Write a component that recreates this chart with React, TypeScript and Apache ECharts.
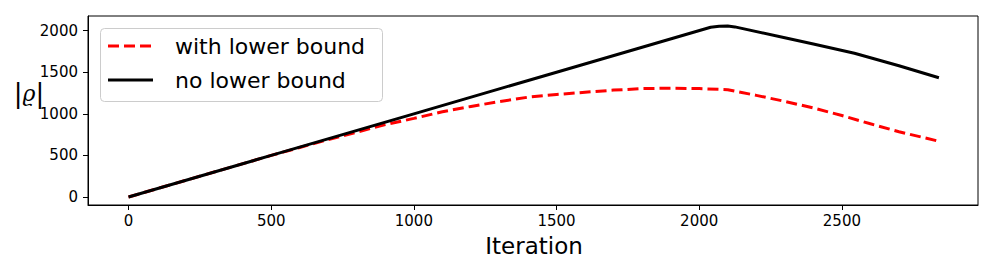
import React, { useEffect, useRef } from "react";
import * as echarts from "echarts";

const xTicks = [0, 500, 1000, 1500, 2000, 2500];
const yTicks = [0, 500, 1000, 1500, 2000];

const redIter = [0, 500, 600, 700, 800, 900, 1000, 1100, 1200, 1300, 1400, 1500, 1600, 1700, 1800, 1900, 2000, 2100, 2200, 2300, 2400, 2500, 2600, 2700, 2840];
const redVal = [0, 500, 595, 690, 780, 870, 945, 1025, 1089, 1148, 1200, 1232, 1260, 1285, 1303, 1308, 1303, 1290, 1222, 1150, 1070, 980, 880, 785, 670];

const blackIter = [0, 500, 1000, 1500, 2040, 2070, 2100, 2125, 2300, 2400, 2544, 2700, 2840];
const blackVal = [0, 500, 1000, 1500, 2040, 2052, 2055, 2045, 1915, 1840, 1729, 1578, 1434];

const seriesNames = ["with lower bound", "no lower bound"];
const xName = "Iteration";

const FONT = "DejaVu Sans";

export default function App() {
  const ref = useRef<HTMLDivElement>(null);
  useEffect(() => {
    if (!ref.current) return;
    const chart = echarts.init(ref.current, null, { renderer: "svg" });
    const pairs = (xs: number[], ys: number[]) => xs.map((x, i) => [x, ys[i]]);
    chart.setOption({
      animation: false,
      backgroundColor: "#ffffff",
      grid: {
        left: 88,
        right: 18,
        top: 16,
        bottom: 72,
        show: true,
        borderColor: "#000000",
        borderWidth: 1,
        backgroundColor: "transparent",
      },
      xAxis: {
        type: "value",
        min: -142,
        max: 2977,
        splitLine: { show: false },
        axisLine: { show: true, onZero: false, lineStyle: { color: "#000", width: 1 } },
        axisTick: { show: true, length: 5, customValues: xTicks, lineStyle: { color: "#000" } },
        axisLabel: {
          customValues: xTicks,
          color: "#000",
          fontFamily: FONT,
          fontSize: 15,
          margin: 8,
          formatter: (v: number) => String(v),
        },
      },
      yAxis: {
        type: "value",
        min: -96,
        max: 2176,
        splitLine: { show: false },
        axisLine: { show: true, onZero: false, lineStyle: { color: "#000", width: 1 } },
        axisTick: { show: true, length: 5, customValues: yTicks, lineStyle: { color: "#000" } },
        axisLabel: {
          customValues: yTicks,
          color: "#000",
          fontFamily: FONT,
          fontSize: 15,
          margin: 10,
          formatter: (v: number) => String(v),
        },
      },
      series: [
        {
          name: seriesNames[0],
          type: "line",
          data: pairs(redIter, redVal),
          showSymbol: false,
          symbol: "none",
          lineStyle: { color: "#ff0000", width: 3, type: [11, 5] },
          z: 2,
        },
        {
          name: seriesNames[1],
          type: "line",
          data: pairs(blackIter, blackVal),
          showSymbol: false,
          symbol: "none",
          lineStyle: { color: "#000000", width: 3 },
          z: 3,
        },
      ],
      graphic: [
        {
          type: "text",
          x: 534,
          y: 246,
          style: { text: xName, fontFamily: FONT, fontSize: 23, fill: "#000", align: "center", verticalAlign: "middle" },
        },
        {
          type: "text",
          x: 29,
          y: 93,
          style: {
            text: "{b||}{r|ϱ}{b||}",
            align: "center",
            verticalAlign: "middle",
            rich: {
              b: { fontFamily: FONT, fontSize: 26, fill: "#000" },
              r: { fontFamily: "DejaVu Serif", fontStyle: "italic", fontSize: 22, fill: "#000" },
            },
          },
        },
        {
          type: "group",
          z: 100,
          children: [
            {
              type: "rect",
              shape: { x: 100.5, y: 28.5, width: 282, height: 73, r: 4 },
              style: { fill: "rgba(255,255,255,0.8)", stroke: "#cccccc", lineWidth: 1 },
            },
            {
              type: "line",
              shape: { x1: 108, y1: 46, x2: 153, y2: 46 },
              style: { stroke: "#ff0000", lineWidth: 3, lineDash: [11, 5] },
            },
            {
              type: "line",
              shape: { x1: 108, y1: 80, x2: 153, y2: 80 },
              style: { stroke: "#000000", lineWidth: 3 },
            },
            {
              type: "text",
              x: 175,
              y: 46,
              style: { text: seriesNames[0], fontFamily: FONT, fontSize: 22, fill: "#000", verticalAlign: "middle" },
            },
            {
              type: "text",
              x: 175,
              y: 80,
              style: { text: seriesNames[1], fontFamily: FONT, fontSize: 22, fill: "#000", verticalAlign: "middle" },
            },
          ],
        },
      ],
    });
    return () => chart.dispose();
  }, []);
  return <div ref={ref} style={{ position: "fixed", left: 0, top: 0, width: 996, height: 277 }} />;
}
